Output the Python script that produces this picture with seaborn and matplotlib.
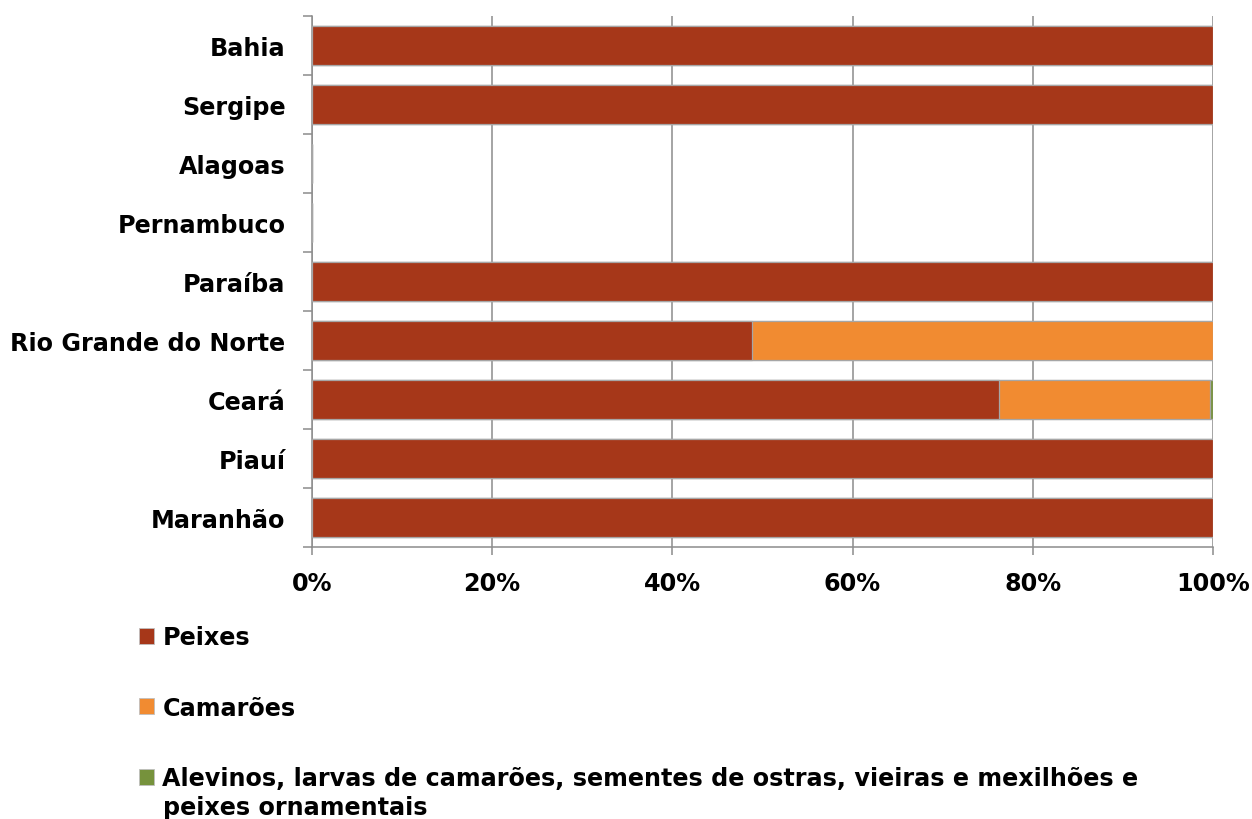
import matplotlib
matplotlib.use("Agg")
import matplotlib.pyplot as plt
import seaborn as sns
import pandas as pd
import numpy as np
from matplotlib.patches import Patch

# States (top to bottom) and the share of each product group, in %
states = ["Bahia", "Sergipe", "Alagoas", "Pernambuco", "Paraíba",
          "Rio Grande do Norte", "Ceará", "Piauí", "Maranhão"]
peixes = [100, 100, 0, 0, 100, 48.8, 76.2, 100, 100]
camaroes = [0, 0, 0, 0, 0, 51.2, 23.5, 0, 0]
alevinos = [0, 0, 0, 0, 0, 0, 0.3, 0, 0]

series_names = ["Peixes", "Camarões",
                "Alevinos, larvas de camarões, sementes de ostras, vieiras e mexilhões e peixes ornamentais"]
colors = ["#A63719", "#F18B31", "#76923C"]
x_ticks = [0, 20, 40, 60, 80, 100]
x_ticklabels = ["0%", "20%", "40%", "60%", "80%", "100%"]

sns.set_theme(style="white")
plt.rcParams["font.family"] = ["DejaVu Sans"]
FS = 17.2
W = "bold"

df = pd.DataFrame({"estado": states, "peixes": peixes,
                   "camaroes": camaroes, "alevinos": alevinos})
# cumulative totals so that the segments stack when drawn back to front
df["c3"] = df["peixes"] + df["camaroes"] + df["alevinos"]
df["c2"] = df["peixes"] + df["camaroes"]
df["c1"] = df["peixes"]

fig = plt.figure(figsize=(12.52, 8.2), dpi=100)
ax = fig.add_axes([0.2492, 0.3317, 0.9688 - 0.2492, 0.9793 - 0.3317])

edge = "#a6a6a6"
for col, color in zip(["c3", "c2", "c1"], colors[::-1]):
    sns.barplot(data=df, y="estado", x=col, order=states, orient="h",
                color=color, saturation=1, width=0.66, ax=ax,
                edgecolor=edge, linewidth=0.9, zorder=3)

ax.set_xlim(0, 100)
ax.set_ylim(8.5, -0.5)
ax.set_xlabel("")
ax.set_ylabel("")

grid_color = "#8c8c8c"
ax.set_xticks(x_ticks)
ax.set_xticklabels(x_ticklabels, fontsize=FS, fontweight=W, color="black")
ax.grid(axis="x", color=grid_color, linewidth=1.1, zorder=0)
ax.set_axisbelow(True)
ax.tick_params(axis="x", direction="out", length=5.5, width=1.1,
               color=grid_color, pad=12, bottom=True)

ax.set_yticks(range(len(states)))
ax.set_yticklabels(states, fontsize=FS, fontweight=W, color="black")
ax.set_yticks(np.arange(-0.5, len(states)), minor=True)
ax.tick_params(axis="y", which="major", length=0, pad=19)
ax.tick_params(axis="y", which="minor", direction="out", length=6.5,
               width=1.1, color=grid_color, left=True)

for side in ["top", "right"]:
    ax.spines[side].set_visible(False)
for side in ["left", "bottom"]:
    ax.spines[side].set_color(grid_color)
    ax.spines[side].set_linewidth(1.1)

# legend below the chart, one entry per row; long label wraps onto a second line
wrap_at = series_names[2].rfind(" peixes")
first_line = series_names[2][:wrap_at]
second_line = series_names[2][wrap_at + 1:]
handles = [Patch(facecolor=c, edgecolor="#bfbfbf", linewidth=0.6) for c in colors]
labels = [series_names[0], series_names[1], first_line]
leg = fig.legend(handles, labels, loc="upper left",
                 bbox_to_anchor=(0.111, 0.2366), frameon=False,
                 prop={"size": FS, "weight": W}, labelcolor="black",
                 handlelength=0.65, handleheight=0.65, handletextpad=0.33,
                 labelspacing=1.95, borderaxespad=0, borderpad=0)
fig.text(163 / 1252, 1 - 808 / 820, second_line, fontsize=FS,
         fontweight=W, va="center", ha="left", color="black")

fig.savefig("out.png", dpi=100)
